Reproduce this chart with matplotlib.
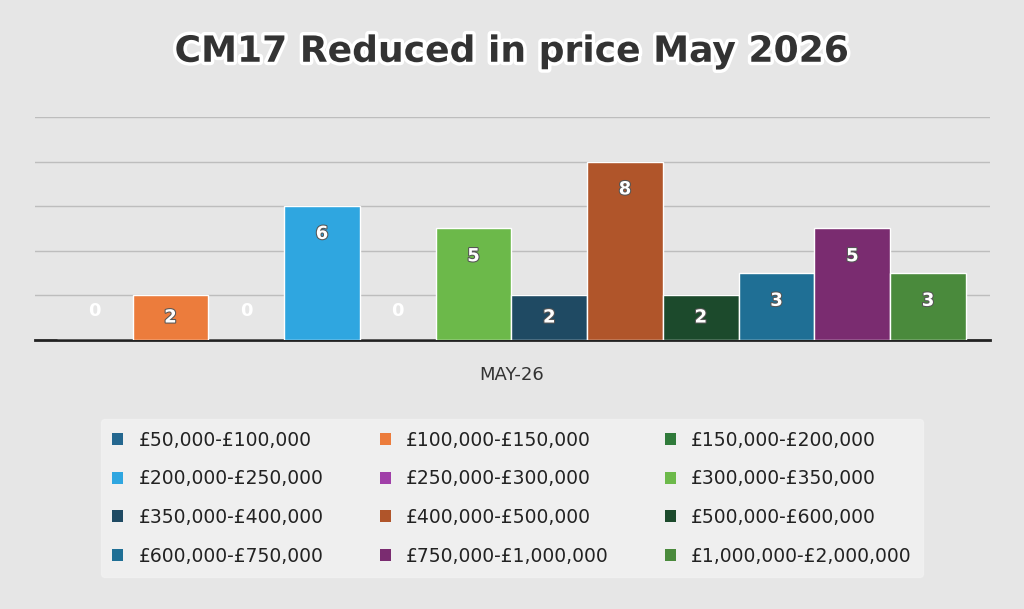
import matplotlib.pyplot as plt
import matplotlib.patheffects as pe
from matplotlib.patches import Patch

bands = ["£50,000-£100,000", "£100,000-£150,000", "£150,000-£200,000",
         "£200,000-£250,000", "£250,000-£300,000", "£300,000-£350,000",
         "£350,000-£400,000", "£400,000-£500,000", "£500,000-£600,000",
         "£600,000-£750,000", "£750,000-£1,000,000", "£1,000,000-£2,000,000"]
counts = [0, 2, 0, 6, 0, 5, 2, 8, 2, 3, 5, 3]
colours = ["#24678f", "#ec7c3c", "#2f7a3a", "#2fa6e0", "#a03fa8", "#6cb94a",
           "#1f4a63", "#b0552a", "#1c4a2c", "#1f6f95", "#7a2c70", "#4a8a3c"]

fig = plt.figure(figsize=(10.24, 6.09), dpi=100)
fig.patch.set_facecolor("#e6e6e6")
ax = fig.add_axes([0.034, 0.442, 0.933, 0.366])
ax.set_facecolor("#e6e6e6")

xs = range(len(counts))
ax.bar(xs, counts, width=1.0, color=colours, edgecolor="white", linewidth=1, zorder=3)
for x, v in zip(xs, counts):
    if v == 0:
        y = 1.3
    elif v >= 3:
        y = v - 1.25
    else:
        y = v / 2
    ax.text(x, y, str(v), ha="center", va="center", color="white",
            fontsize=13, fontweight="bold", zorder=4,
            path_effects=[pe.withStroke(linewidth=1.5, foreground="#555555")] if v else None)

ax.set_xlim(-0.79, 11.82)
ax.set_ylim(0, 10)
ax.set_yticks([2, 4, 6, 8, 10])
ax.yaxis.grid(True, color="#bdbdbd", linewidth=1, zorder=0)
ax.tick_params(left=False, labelleft=False, bottom=False, labelbottom=False)
for s in ["top", "right", "left"]:
    ax.spines[s].set_visible(False)
ax.spines["bottom"].set_linewidth(2)
ax.spines["bottom"].set_color("#222222")

fig.text(0.5, 0.385, "MAY-26", ha="center", va="center", fontsize=13, color="#333333")
fig.text(0.5, 0.915, "CM17 Reduced in price May 2026", ha="center", va="center",
         fontsize=26, fontweight="bold", color="#333333",
         path_effects=[pe.withStroke(linewidth=5, foreground="white")])

handles = [Patch(facecolor=c, label=b) for c, b in zip(colours, bands)]
# legend is laid out row-wise in 3 columns
order = [0, 3, 6, 9, 1, 4, 7, 10, 2, 5, 8, 11]
leg = fig.legend([handles[i] for i in order], [bands[i] for i in order],
                 ncol=3, loc="center", bbox_to_anchor=(0.5, 0.182),
                 fontsize=13.5, frameon=True, handlelength=0.6, handleheight=0.6,
                 columnspacing=3.0, labelspacing=1.05, borderpad=0.6)
leg.get_frame().set_facecolor("#f2f2f2")
leg.get_frame().set_edgecolor("#f2f2f2")
for t in leg.get_texts():
    t.set_color("#222222")

fig.savefig("out.png", dpi=100, facecolor=fig.get_facecolor())
